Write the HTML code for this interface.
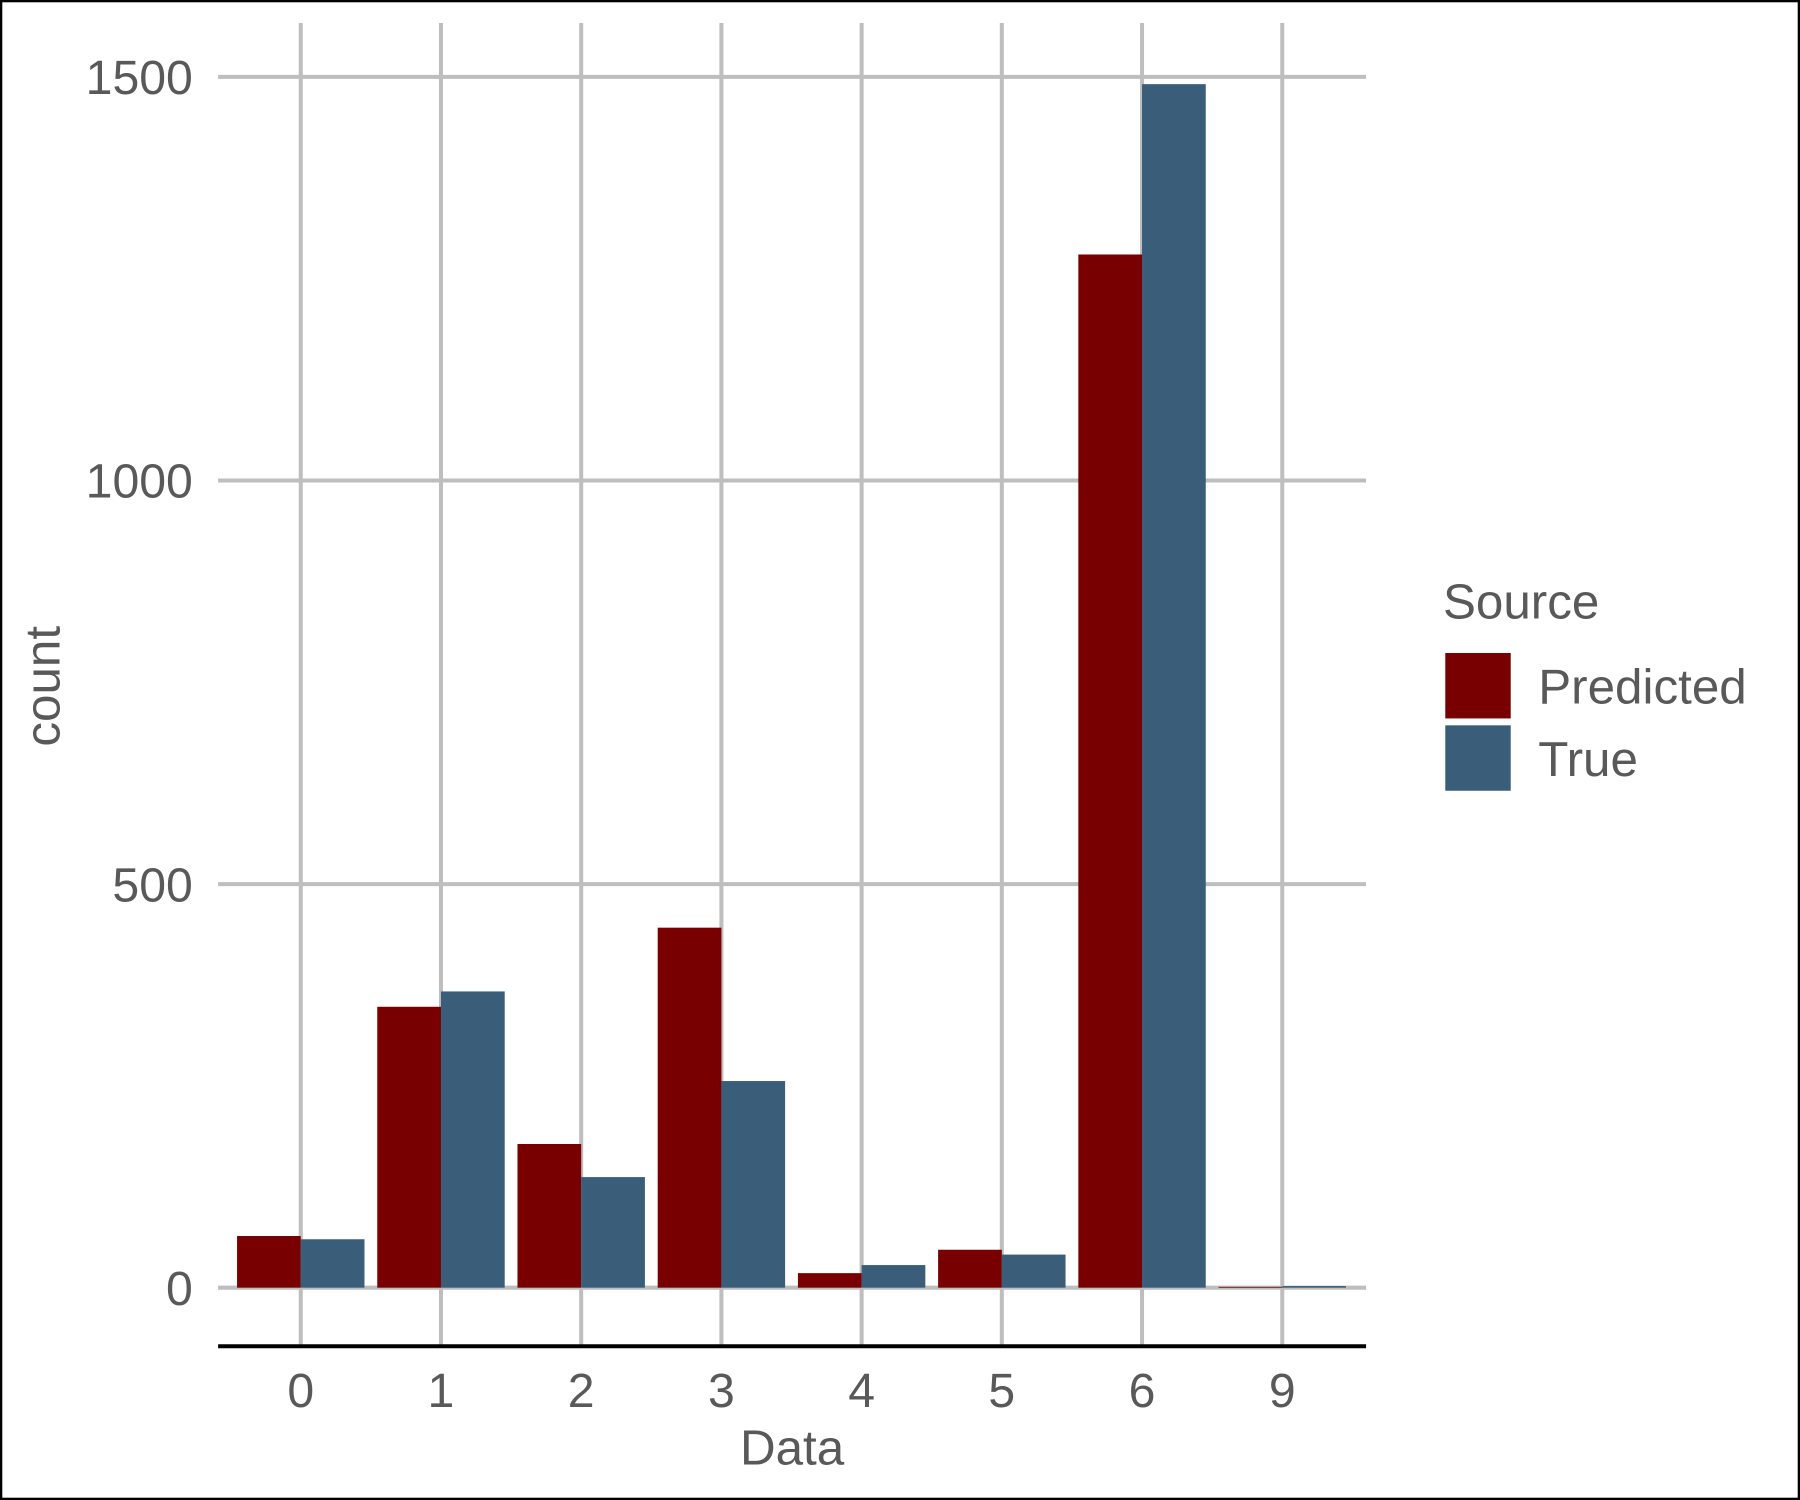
<!DOCTYPE html>
<html><head><meta charset="utf-8"><style>
html,body{margin:0;padding:0;background:#fff;}
svg{display:block;}
text{font-family:"Liberation Sans",Arial,sans-serif;fill:#595959;}
</style></head><body>
<svg id="chart" width="1800" height="1500" viewBox="0 0 1568 1307" preserveAspectRatio="none" xmlns="http://www.w3.org/2000/svg">
<rect x="1" y="1" width="1566" height="1305" fill="#fff" stroke="#000" stroke-width="2"/>
<g id="grid"></g><g id="bars"></g><g id="axes"></g>
<text x="690" y="1276" font-size="43" text-anchor="middle">Data</text>
<text transform="translate(52,598) rotate(-90)" font-size="43" text-anchor="middle">count</text>
<text x="1257" y="539" font-size="43">Source</text>
<rect x="1259" y="569" width="57" height="57" fill="#780000"/>
<text x="1340" y="613" font-size="43">Predicted</text>
<rect x="1259" y="632" width="57" height="57" fill="#3a5d7a"/>
<text x="1340" y="676" font-size="43">True</text>
</svg>
<script>
const categories = ["0","1","2","3","4","5","6","9"];
const predicted = [64, 348, 178, 446, 18, 47, 1280, 1];
const trueVals = [60, 367, 137, 256, 28, 41, 1491, 2];
const yTicks = [0, 500, 1000, 1500];

const NS = "http://www.w3.org/2000/svg";
const x0 = 262, dx = 122.14, bw = 55.5;
const xPos = i => x0 + i * dx;
const yPos = v => 1122 - v * (1055 / 1500);
function mk(tag, attrs, parent) {
  const e = document.createElementNS(NS, tag);
  for (const k in attrs) e.setAttribute(k, attrs[k]);
  document.getElementById(parent).appendChild(e);
  return e;
}
yTicks.forEach(t => {
  const l = mk("line", {x1:190, x2:1190, y1:yPos(t), y2:yPos(t), stroke:"#bebebe", "stroke-width":3.5}, "grid");
  
  
  const tx = mk("text", {x:168, y:yPos(t)+15, "font-size":42, "text-anchor":"end"}, "axes");
  tx.textContent = t;
  
  
});
categories.forEach((c, i) => {
  const l = mk("line", {x1:xPos(i), x2:xPos(i), y1:20, y2:1172, stroke:"#bebebe", "stroke-width":3.5}, "grid");
  
  
  const p = mk("rect", {x:xPos(i)-bw, y:yPos(predicted[i]), width:bw, height:yPos(0)-yPos(predicted[i]), fill:"#780000"}, "bars");
  
  
  const t = mk("rect", {x:xPos(i), y:yPos(trueVals[i]), width:bw, height:yPos(0)-yPos(trueVals[i]), fill:"#3a5d7a"}, "bars");
  
  
  const tx = mk("text", {x:xPos(i), y:1226, "font-size":42, "text-anchor":"middle"}, "axes");
  tx.textContent = c;
  
  
});
const ax = mk("line", {x1:190, x2:1190, y1:1173, y2:1173, stroke:"#000", "stroke-width":3.5}, "axes");


</script>
</body></html>
